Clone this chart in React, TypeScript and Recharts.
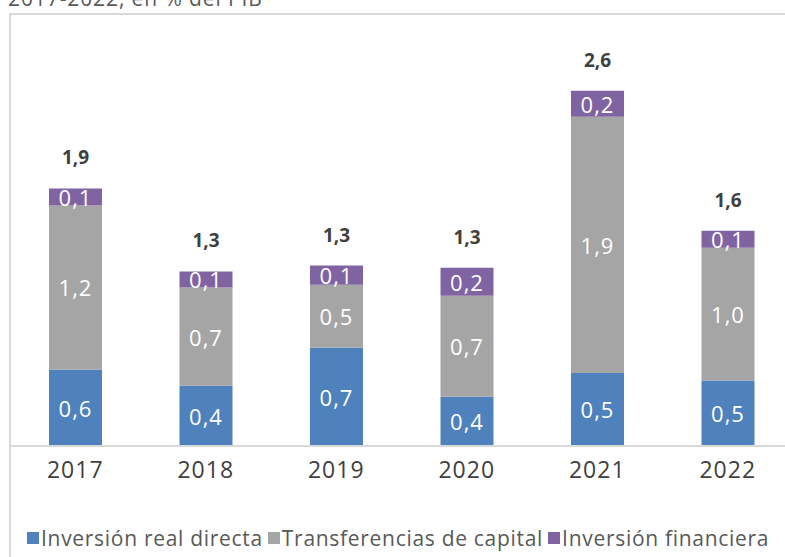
import { BarChart, Bar, XAxis, YAxis, LabelList, Legend } from "recharts"

const categories = ["2017", "2018", "2019", "2020", "2021", "2022"]
const inversionReal = [0.56, 0.44, 0.72, 0.36, 0.535, 0.48]
const transferencias = [1.2, 0.72, 0.46, 0.74, 1.875, 0.97]
const inversionFinanciera = [0.125, 0.117, 0.14, 0.205, 0.19, 0.125]
const totals = [1.9, 1.3, 1.3, 1.3, 2.6, 1.6]

const series = [
  { key: "real", name: "Inversión real directa", color: "#4F81BD" },
  { key: "transf", name: "Transferencias de capital", color: "#A5A5A5" },
  { key: "fin", name: "Inversión financiera", color: "#8064A2" },
]

const data = categories.map((year, i) => ({
  year,
  real: inversionReal[i],
  transf: transferencias[i],
  fin: inversionFinanciera[i],
  total: totals[i],
}))

const FONT = "'Open Sans', sans-serif"
const fmt = (v: number) => v.toFixed(1).replace(".", ",")

const SegmentLabel = (props: any) => {
  const { x, y, width, height, value } = props
  return (
    <text
      x={x + width / 2}
      y={y + height / 2}
      textAnchor="middle"
      dominantBaseline="central"
      fill="#fff"
      fontSize={22}
      letterSpacing={1}
      fontFamily={FONT}
    >
      {fmt(Number(value))}
    </text>
  )
}

const TotalLabel = (props: any) => {
  const { x, y, width, index } = props
  return (
    <text
      x={x + width / 2}
      y={y - 31}
      textAnchor="middle"
      dominantBaseline="central"
      fill="#404040"
      fontSize={19}
      fontWeight="bold"
      fontFamily={FONT}
    >
      {fmt(totals[index])}
    </text>
  )
}

const LegendContent = () => (
  <div
    style={{
      display: "flex",
      alignItems: "center",
      fontFamily: FONT,
      fontSize: 21,
      letterSpacing: 0.7,
      color: "#595959",
      height: 30,
      whiteSpace: "nowrap",
    }}
  >
    {series.map((s) => (
      <div key={s.key} style={{ display: "flex", alignItems: "center", marginRight: 5 }}>
        <span style={{ width: 12, height: 12, background: s.color, display: "inline-block", marginRight: 2 }} />
        <span>{s.name}</span>
      </div>
    ))}
  </div>
)

export default function App() {
  return (
    <div style={{ position: "fixed", left: 0, top: 0, width: 785, height: 557, overflow: "hidden", background: "#fff" }}>
      <div
        style={{
          position: "absolute",
          left: 9,
          top: 13,
          width: 820,
          height: 620,
          border: "2px solid #d9d9d9",
        }}
      />
      <div
        style={{
          position: "absolute",
          left: 8,
          top: -16,
          fontFamily: FONT,
          fontSize: 21,
          letterSpacing: 0.9,
          color: "#595959",
          whiteSpace: "nowrap",
        }}
      >
        2017-2022, en % del PIB
      </div>
      <div style={{ position: "absolute", left: 0, top: 0 }}>
        <BarChart width={794} height={557} data={data} margin={{ top: 36, right: 1, bottom: 31, left: 10 }}>
          <XAxis
            dataKey="year"
            axisLine={{ stroke: "#d9d9d9", strokeWidth: 2 }}
            tickLine={false}
            height={50}
            tick={{ fill: "#404040", fontSize: 23, fontFamily: FONT, letterSpacing: 1 }}
            dy={8}
          />
          <YAxis hide domain={[0, 3]} />
          <Legend
            content={<LegendContent />}
            wrapperStyle={{ top: 523, left: 27, width: 780 }}
          />
          {series.map((s, i) => (
            <Bar
              key={s.key}
              dataKey={s.key}
              name={s.name}
              stackId="a"
              fill={s.color}
              barSize={53}
              isAnimationActive={false}
            >
              <LabelList dataKey={s.key} content={SegmentLabel} />
              {i === series.length - 1 && <LabelList dataKey="total" content={TotalLabel} />}
            </Bar>
          ))}
        </BarChart>
      </div>
    </div>
  )
}
